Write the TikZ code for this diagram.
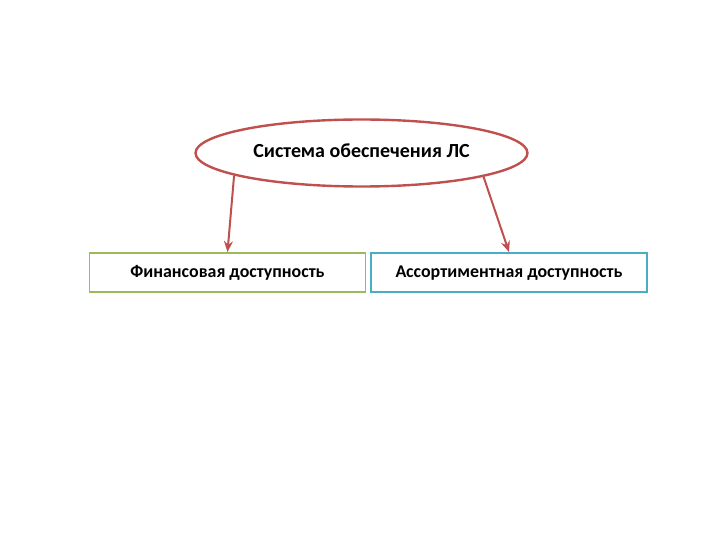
\documentclass[tikz,border=0pt]{standalone}
\usepackage{fontspec}
\setmainfont{Carlito}
\usetikzlibrary{shapes.geometric,positioning,arrows.meta}
\definecolor{accred}{HTML}{C0504D}
\definecolor{accgreen}{HTML}{9BBB59}
\definecolor{accteal}{HTML}{4BACC6}
\tikzset{
  itembox/.style={line width=1.8pt, minimum width=276pt, minimum height=39pt,
    text height=12.5pt, text depth=3.5pt}
}
\begin{document}
\begin{tikzpicture}[x=1pt,y=-1pt,>={Stealth[length=11pt,width=9pt]},
  font=\bfseries\fontsize{17.9}{21}\selectfont]
  \useasboundingbox (0,0) rectangle (720,540);

  % Top ellipse
  \node[ellipse, draw=accred, line width=2.4pt, minimum width=332pt,
        minimum height=67pt, inner sep=0pt, text height=13pt, text depth=3pt,
        font=\bfseries\fontsize{20}{23}\selectfont]
    (sys) at (361.5,153) {Система обеспечения ЛС};

  % Two boxes
  \node[itembox, draw=accgreen] (fin) at (227.5,272.5) {Финансовая доступность};
  \node[itembox, draw=accteal] (ass) at (509,272.5) {Ассортиментная доступность};

  % Arrows
  \draw[->, accred, line width=2pt] (sys.190.7) -- (fin.north);
  \draw[->, accred, line width=2pt] (sys.349.6) -- (ass.north);
\end{tikzpicture}
\end{document}
